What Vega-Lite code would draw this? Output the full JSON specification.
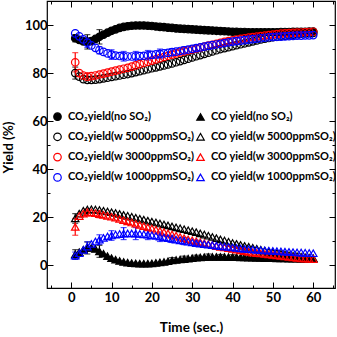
{
"$schema":"https://vega.github.io/schema/vega-lite/v6.json",
"width":288,"height":287,
"autosize":{"type":"none"},
"padding":{"left":47,"top":1,"right":2,"bottom":49},
"config":{"view":{"stroke":"black","strokeWidth":1.2},"font":"Lato",
"axis":{"domain":false,"grid":false,"labelFont":"Lato","labelFontWeight":"bold","labelFontSize":13,"labelColor":"black","tickColor":"black","tickWidth":1,"titleFont":"Lato","titleFontWeight":"bold","titleFontSize":13.5,"titleColor":"black"}},
"data":{"values":[
{"s":"a","t":1,"y":94.5,"e":1.5},{"s":"a","t":2,"y":93.8},{"s":"a","t":3,"y":93.2},{"s":"a","t":4,"y":93,"e":3},{"s":"a","t":5,"y":93.3},{"s":"a","t":6,"y":94.2},{"s":"a","t":7,"y":95.1,"e":3},{"s":"a","t":8,"y":96},{"s":"a","t":9,"y":96.8},{"s":"a","t":10,"y":97.6},
{"s":"a","t":11,"y":98.2},{"s":"a","t":12,"y":98.8},{"s":"a","t":13,"y":99.2},{"s":"a","t":14,"y":99.5},{"s":"a","t":15,"y":99.7},{"s":"a","t":16,"y":99.8},{"s":"a","t":17,"y":99.8},{"s":"a","t":18,"y":99.8},{"s":"a","t":19,"y":99.7},{"s":"a","t":20,"y":99.6},
{"s":"a","t":21,"y":99.4},{"s":"a","t":22,"y":99.2},{"s":"a","t":23,"y":99.1},{"s":"a","t":24,"y":98.9},{"s":"a","t":25,"y":98.8},{"s":"a","t":26,"y":98.6},{"s":"a","t":27,"y":98.5},{"s":"a","t":28,"y":98.4},{"s":"a","t":29,"y":98.3},{"s":"a","t":30,"y":98.2},
{"s":"a","t":31,"y":98.1},{"s":"a","t":32,"y":98},{"s":"a","t":33,"y":97.9},{"s":"a","t":34,"y":97.8},{"s":"a","t":35,"y":97.7},{"s":"a","t":36,"y":97.6},{"s":"a","t":37,"y":97.5},{"s":"a","t":38,"y":97.4},{"s":"a","t":39,"y":97.3},{"s":"a","t":40,"y":97.2},
{"s":"a","t":41,"y":97.2},{"s":"a","t":42,"y":97.1},{"s":"a","t":43,"y":97.1},{"s":"a","t":44,"y":97},{"s":"a","t":45,"y":97},{"s":"a","t":46,"y":97},{"s":"a","t":47,"y":97},{"s":"a","t":48,"y":97},{"s":"a","t":49,"y":97},{"s":"a","t":50,"y":97},
{"s":"a","t":51,"y":97},{"s":"a","t":52,"y":97.1},{"s":"a","t":53,"y":97.1},{"s":"a","t":54,"y":97.1},{"s":"a","t":55,"y":97.2},{"s":"a","t":56,"y":97.2},{"s":"a","t":57,"y":97.2},{"s":"a","t":58,"y":97.2},{"s":"a","t":59,"y":97.3},{"s":"a","t":60,"y":97.3},
{"s":"b","t":1,"y":4.5,"e":2},{"s":"b","t":2,"y":5.5},{"s":"b","t":3,"y":6.5},{"s":"b","t":4,"y":7.2,"e":2.5},{"s":"b","t":5,"y":7.3},{"s":"b","t":6,"y":6.8},{"s":"b","t":7,"y":5.8,"e":2.5},{"s":"b","t":8,"y":4.8},{"s":"b","t":9,"y":3.8},{"s":"b","t":10,"y":3},
{"s":"b","t":11,"y":2.3},{"s":"b","t":12,"y":1.8},{"s":"b","t":13,"y":1.4},{"s":"b","t":14,"y":1.1},{"s":"b","t":15,"y":0.9},{"s":"b","t":16,"y":0.8},{"s":"b","t":17,"y":0.7},{"s":"b","t":18,"y":0.7},{"s":"b","t":19,"y":0.7},{"s":"b","t":20,"y":0.8},
{"s":"b","t":21,"y":1},{"s":"b","t":22,"y":1.2},{"s":"b","t":23,"y":1.4},{"s":"b","t":24,"y":1.7},{"s":"b","t":25,"y":2,"e":1.2},{"s":"b","t":26,"y":2.2},{"s":"b","t":27,"y":2.4},{"s":"b","t":28,"y":2.6,"e":1.2},{"s":"b","t":29,"y":2.8},{"s":"b","t":30,"y":3},
{"s":"b","t":31,"y":3.2,"e":1},{"s":"b","t":32,"y":3.3},{"s":"b","t":33,"y":3.4},{"s":"b","t":34,"y":3.5,"e":1.2},{"s":"b","t":35,"y":3.5},{"s":"b","t":36,"y":3.5},{"s":"b","t":37,"y":3.5,"e":1},{"s":"b","t":38,"y":3.5},{"s":"b","t":39,"y":3.4},{"s":"b","t":40,"y":3.4,"e":1},
{"s":"b","t":41,"y":3.4},{"s":"b","t":42,"y":3.3},{"s":"b","t":43,"y":3.3,"e":1},{"s":"b","t":44,"y":3.2},{"s":"b","t":45,"y":3.2},{"s":"b","t":46,"y":3.1,"e":0.8},{"s":"b","t":47,"y":3.1},{"s":"b","t":48,"y":3},{"s":"b","t":49,"y":3,"e":0.8},{"s":"b","t":50,"y":3},
{"s":"b","t":51,"y":2.9},{"s":"b","t":52,"y":2.9,"e":0.8},{"s":"b","t":53,"y":2.9},{"s":"b","t":54,"y":2.8},{"s":"b","t":55,"y":2.8,"e":0.8},{"s":"b","t":56,"y":2.8},{"s":"b","t":57,"y":2.7},{"s":"b","t":58,"y":2.7},{"s":"b","t":59,"y":2.7},{"s":"b","t":60,"y":2.7},
{"s":"c","t":1,"y":80,"e":2.5},{"s":"c","t":2,"y":78.5},{"s":"c","t":3,"y":77.5},{"s":"c","t":4,"y":77.2},{"s":"c","t":5,"y":77.2},{"s":"c","t":6,"y":77.3},{"s":"c","t":7,"y":77.5},{"s":"c","t":8,"y":77.8},{"s":"c","t":9,"y":78.1},{"s":"c","t":10,"y":78.4},
{"s":"c","t":11,"y":78.7},{"s":"c","t":12,"y":79},{"s":"c","t":13,"y":79.3},{"s":"c","t":14,"y":79.6},{"s":"c","t":15,"y":80},{"s":"c","t":16,"y":80.4},{"s":"c","t":17,"y":80.8},{"s":"c","t":18,"y":81.2},{"s":"c","t":19,"y":81.6},{"s":"c","t":20,"y":82},
{"s":"c","t":21,"y":82.4},{"s":"c","t":22,"y":82.8},{"s":"c","t":23,"y":83.2},{"s":"c","t":24,"y":83.6},{"s":"c","t":25,"y":84},{"s":"c","t":26,"y":84.5},{"s":"c","t":27,"y":85},{"s":"c","t":28,"y":85.5},{"s":"c","t":29,"y":86},{"s":"c","t":30,"y":86.5},
{"s":"c","t":31,"y":87},{"s":"c","t":32,"y":87.5},{"s":"c","t":33,"y":88},{"s":"c","t":34,"y":88.5},{"s":"c","t":35,"y":89},{"s":"c","t":36,"y":89.5},{"s":"c","t":37,"y":90},{"s":"c","t":38,"y":90.4},{"s":"c","t":39,"y":90.8},{"s":"c","t":40,"y":91.2},
{"s":"c","t":41,"y":91.6},{"s":"c","t":42,"y":92},{"s":"c","t":43,"y":92.4},{"s":"c","t":44,"y":92.8},{"s":"c","t":45,"y":93.2},{"s":"c","t":46,"y":93.6},{"s":"c","t":47,"y":94},{"s":"c","t":48,"y":94.3},{"s":"c","t":49,"y":94.6},{"s":"c","t":50,"y":94.9},
{"s":"c","t":51,"y":95.2},{"s":"c","t":52,"y":95.4},{"s":"c","t":53,"y":95.6},{"s":"c","t":54,"y":95.8},{"s":"c","t":55,"y":96},{"s":"c","t":56,"y":96.2},{"s":"c","t":57,"y":96.4},{"s":"c","t":58,"y":96.5},{"s":"c","t":59,"y":96.6},{"s":"c","t":60,"y":96.7},
{"s":"d","t":1,"y":19.5,"e":2},{"s":"d","t":2,"y":21.5},{"s":"d","t":3,"y":22.7},{"s":"d","t":4,"y":23.2},{"s":"d","t":5,"y":23.3},{"s":"d","t":6,"y":23.2},{"s":"d","t":7,"y":23},{"s":"d","t":8,"y":22.7},{"s":"d","t":9,"y":22.4},{"s":"d","t":10,"y":22.1},
{"s":"d","t":11,"y":21.8},{"s":"d","t":12,"y":21.4},{"s":"d","t":13,"y":21},{"s":"d","t":14,"y":20.6},{"s":"d","t":15,"y":20.2},{"s":"d","t":16,"y":19.8},{"s":"d","t":17,"y":19.4},{"s":"d","t":18,"y":19},{"s":"d","t":19,"y":18.6},{"s":"d","t":20,"y":18.2},
{"s":"d","t":21,"y":17.8},{"s":"d","t":22,"y":17.4},{"s":"d","t":23,"y":17},{"s":"d","t":24,"y":16.6},{"s":"d","t":25,"y":16.2},{"s":"d","t":26,"y":15.8},{"s":"d","t":27,"y":15.4},{"s":"d","t":28,"y":15},{"s":"d","t":29,"y":14.6},{"s":"d","t":30,"y":14.2},
{"s":"d","t":31,"y":13.8},{"s":"d","t":32,"y":13.3},{"s":"d","t":33,"y":12.8},{"s":"d","t":34,"y":12.3},{"s":"d","t":35,"y":11.8},{"s":"d","t":36,"y":11.3},{"s":"d","t":37,"y":10.8},{"s":"d","t":38,"y":10.3},{"s":"d","t":39,"y":9.8},{"s":"d","t":40,"y":9.3},
{"s":"d","t":41,"y":8.9},{"s":"d","t":42,"y":8.5},{"s":"d","t":43,"y":8.1},{"s":"d","t":44,"y":7.7},{"s":"d","t":45,"y":7.3},{"s":"d","t":46,"y":6.9},{"s":"d","t":47,"y":6.5},{"s":"d","t":48,"y":6.1},{"s":"d","t":49,"y":5.7},{"s":"d","t":50,"y":5.4},
{"s":"d","t":51,"y":5.1},{"s":"d","t":52,"y":4.8},{"s":"d","t":53,"y":4.5},{"s":"d","t":54,"y":4.2},{"s":"d","t":55,"y":4},{"s":"d","t":56,"y":3.8},{"s":"d","t":57,"y":3.6},{"s":"d","t":58,"y":3.4},{"s":"d","t":59,"y":3.2},{"s":"d","t":60,"y":3},
{"s":"e","t":1,"y":84.5,"e":4},{"s":"e","t":2,"y":80},{"s":"e","t":3,"y":79},{"s":"e","t":4,"y":78.5,"e":1.5},{"s":"e","t":5,"y":78.7},{"s":"e","t":6,"y":79},{"s":"e","t":7,"y":79.4},{"s":"e","t":8,"y":79.8},{"s":"e","t":9,"y":80.2},{"s":"e","t":10,"y":80.6},
{"s":"e","t":11,"y":81},{"s":"e","t":12,"y":81.4},{"s":"e","t":13,"y":81.8},{"s":"e","t":14,"y":82.2},{"s":"e","t":15,"y":82.7},{"s":"e","t":16,"y":83.2},{"s":"e","t":17,"y":83.7},{"s":"e","t":18,"y":84.2},{"s":"e","t":19,"y":84.7},{"s":"e","t":20,"y":85.2},
{"s":"e","t":21,"y":85.7},{"s":"e","t":22,"y":86.2},{"s":"e","t":23,"y":86.7},{"s":"e","t":24,"y":87.2},{"s":"e","t":25,"y":87.7},{"s":"e","t":26,"y":88.2},{"s":"e","t":27,"y":88.6},{"s":"e","t":28,"y":89},{"s":"e","t":29,"y":89.4},{"s":"e","t":30,"y":89.8},
{"s":"e","t":31,"y":90.2},{"s":"e","t":32,"y":90.6},{"s":"e","t":33,"y":91},{"s":"e","t":34,"y":91.4},{"s":"e","t":35,"y":91.8},{"s":"e","t":36,"y":92.2},{"s":"e","t":37,"y":92.6},{"s":"e","t":38,"y":93},{"s":"e","t":39,"y":93.3},{"s":"e","t":40,"y":93.6},
{"s":"e","t":41,"y":93.9},{"s":"e","t":42,"y":94.2},{"s":"e","t":43,"y":94.5},{"s":"e","t":44,"y":94.8},{"s":"e","t":45,"y":95},{"s":"e","t":46,"y":95.2},{"s":"e","t":47,"y":95.4},{"s":"e","t":48,"y":95.6},{"s":"e","t":49,"y":95.8},{"s":"e","t":50,"y":96},
{"s":"e","t":51,"y":96.2},{"s":"e","t":52,"y":96.4},{"s":"e","t":53,"y":96.5},{"s":"e","t":54,"y":96.6},{"s":"e","t":55,"y":96.7},{"s":"e","t":56,"y":96.8},{"s":"e","t":57,"y":96.9},{"s":"e","t":58,"y":97},{"s":"e","t":59,"y":97.1},{"s":"e","t":60,"y":97.2},
{"s":"f","t":1,"y":16,"e":3.5},{"s":"f","t":2,"y":20.5},{"s":"f","t":3,"y":21.5},{"s":"f","t":4,"y":22,"e":1.5},{"s":"f","t":5,"y":22},{"s":"f","t":6,"y":21.7},{"s":"f","t":7,"y":21.3,"e":1.5},{"s":"f","t":8,"y":21},{"s":"f","t":9,"y":20.6},{"s":"f","t":10,"y":20.2},
{"s":"f","t":11,"y":19.8},{"s":"f","t":12,"y":19.3},{"s":"f","t":13,"y":18.8},{"s":"f","t":14,"y":18.3},{"s":"f","t":15,"y":17.8},{"s":"f","t":16,"y":17.3},{"s":"f","t":17,"y":16.8},{"s":"f","t":18,"y":16.3},{"s":"f","t":19,"y":15.8},{"s":"f","t":20,"y":15.3},
{"s":"f","t":21,"y":14.8},{"s":"f","t":22,"y":14.3},{"s":"f","t":23,"y":13.8},{"s":"f","t":24,"y":13.3},{"s":"f","t":25,"y":12.8},{"s":"f","t":26,"y":12.3},{"s":"f","t":27,"y":11.8},{"s":"f","t":28,"y":11.3},{"s":"f","t":29,"y":10.8},{"s":"f","t":30,"y":10.4},
{"s":"f","t":31,"y":10},{"s":"f","t":32,"y":9.6},{"s":"f","t":33,"y":9.2},{"s":"f","t":34,"y":8.8},{"s":"f","t":35,"y":8.4},{"s":"f","t":36,"y":8},{"s":"f","t":37,"y":7.7},{"s":"f","t":38,"y":7.4},{"s":"f","t":39,"y":7.1},{"s":"f","t":40,"y":6.8},
{"s":"f","t":41,"y":6.5},{"s":"f","t":42,"y":6.2},{"s":"f","t":43,"y":5.9},{"s":"f","t":44,"y":5.6},{"s":"f","t":45,"y":5.3},{"s":"f","t":46,"y":5.1},{"s":"f","t":47,"y":4.9},{"s":"f","t":48,"y":4.7},{"s":"f","t":49,"y":4.5},{"s":"f","t":50,"y":4.3},
{"s":"f","t":51,"y":4.1},{"s":"f","t":52,"y":3.9},{"s":"f","t":53,"y":3.7},{"s":"f","t":54,"y":3.5},{"s":"f","t":55,"y":3.3},{"s":"f","t":56,"y":3.1},{"s":"f","t":57,"y":2.9},{"s":"f","t":58,"y":2.8},{"s":"f","t":59,"y":2.7},{"s":"f","t":60,"y":2.6},
{"s":"g","t":1,"y":96.5},{"s":"g","t":2,"y":95.3},{"s":"g","t":3,"y":94},{"s":"g","t":4,"y":92.7,"e":2},{"s":"g","t":5,"y":91.5},{"s":"g","t":6,"y":90.5},{"s":"g","t":7,"y":89.5,"e":1.5},{"s":"g","t":8,"y":88.8},{"s":"g","t":9,"y":88.2},{"s":"g","t":10,"y":87.7,"e":2},
{"s":"g","t":11,"y":87.3},{"s":"g","t":12,"y":87.1},{"s":"g","t":13,"y":87,"e":2},{"s":"g","t":14,"y":86.9},{"s":"g","t":15,"y":86.9},{"s":"g","t":16,"y":87,"e":2},{"s":"g","t":17,"y":87.1},{"s":"g","t":18,"y":87.2},{"s":"g","t":19,"y":87.4,"e":2},{"s":"g","t":20,"y":87.6},
{"s":"g","t":21,"y":87.8},{"s":"g","t":22,"y":88,"e":2},{"s":"g","t":23,"y":88.2},{"s":"g","t":24,"y":88.4},{"s":"g","t":25,"y":88.7,"e":1.5},{"s":"g","t":26,"y":88.9},{"s":"g","t":27,"y":89.2},{"s":"g","t":28,"y":89.5,"e":1.5},{"s":"g","t":29,"y":89.8},{"s":"g","t":30,"y":90.1},
{"s":"g","t":31,"y":90.4,"e":1.2},{"s":"g","t":32,"y":90.7},{"s":"g","t":33,"y":91},{"s":"g","t":34,"y":91.3},{"s":"g","t":35,"y":91.6},{"s":"g","t":36,"y":91.9},{"s":"g","t":37,"y":92.2},{"s":"g","t":38,"y":92.5},{"s":"g","t":39,"y":92.8},{"s":"g","t":40,"y":93.1},
{"s":"g","t":41,"y":93.3},{"s":"g","t":42,"y":93.5},{"s":"g","t":43,"y":93.7},{"s":"g","t":44,"y":93.9},{"s":"g","t":45,"y":94.1},{"s":"g","t":46,"y":94.3},{"s":"g","t":47,"y":94.5},{"s":"g","t":48,"y":94.7},{"s":"g","t":49,"y":94.9},{"s":"g","t":50,"y":95},
{"s":"g","t":51,"y":95.1},{"s":"g","t":52,"y":95.2},{"s":"g","t":53,"y":95.3},{"s":"g","t":54,"y":95.4},{"s":"g","t":55,"y":95.5},{"s":"g","t":56,"y":95.6},{"s":"g","t":57,"y":95.6},{"s":"g","t":58,"y":95.7},{"s":"g","t":59,"y":95.7},{"s":"g","t":60,"y":95.8},
{"s":"h","t":1,"y":4,"e":1.5},{"s":"h","t":2,"y":5},{"s":"h","t":3,"y":6.4},{"s":"h","t":4,"y":7.8,"e":2},{"s":"h","t":5,"y":8.9},{"s":"h","t":6,"y":9.9},{"s":"h","t":7,"y":10.7,"e":2},{"s":"h","t":8,"y":11.4},{"s":"h","t":9,"y":12},{"s":"h","t":10,"y":12.4,"e":2},
{"s":"h","t":11,"y":12.8},{"s":"h","t":12,"y":13},{"s":"h","t":13,"y":13.2,"e":2.5},{"s":"h","t":14,"y":13.3},{"s":"h","t":15,"y":13.3},{"s":"h","t":16,"y":13.2,"e":2.5},{"s":"h","t":17,"y":13.1},{"s":"h","t":18,"y":12.9},{"s":"h","t":19,"y":12.7,"e":2},{"s":"h","t":20,"y":12.5},
{"s":"h","t":21,"y":12.2},{"s":"h","t":22,"y":11.9,"e":2},{"s":"h","t":23,"y":11.6},{"s":"h","t":24,"y":11.3},{"s":"h","t":25,"y":11,"e":1.5},{"s":"h","t":26,"y":10.7},{"s":"h","t":27,"y":10.4},{"s":"h","t":28,"y":10.1,"e":1.5},{"s":"h","t":29,"y":9.8},{"s":"h","t":30,"y":9.5},
{"s":"h","t":31,"y":9.2,"e":1.2},{"s":"h","t":32,"y":9},{"s":"h","t":33,"y":8.8},{"s":"h","t":34,"y":8.6},{"s":"h","t":35,"y":8.4},{"s":"h","t":36,"y":8.2},{"s":"h","t":37,"y":8},{"s":"h","t":38,"y":7.8},{"s":"h","t":39,"y":7.6},{"s":"h","t":40,"y":7.4},
{"s":"h","t":41,"y":7.2},{"s":"h","t":42,"y":7},{"s":"h","t":43,"y":6.8},{"s":"h","t":44,"y":6.7},{"s":"h","t":45,"y":6.6},{"s":"h","t":46,"y":6.4},{"s":"h","t":47,"y":6.3},{"s":"h","t":48,"y":6.2},{"s":"h","t":49,"y":6.1},{"s":"h","t":50,"y":6},
{"s":"h","t":51,"y":5.9},{"s":"h","t":52,"y":5.8},{"s":"h","t":53,"y":5.7},{"s":"h","t":54,"y":5.6},{"s":"h","t":55,"y":5.5},{"s":"h","t":56,"y":5.4},{"s":"h","t":57,"y":5.3},{"s":"h","t":58,"y":5.2},{"s":"h","t":59,"y":5.1},{"s":"h","t":60,"y":5}
]},
"layer":[
{"transform":[{"filter":{"field":"e","valid":true}}],
 "mark":{"type":"errorbar","ticks":{"size":6},"thickness":1.2},
 "encoding":{
  "x":{"field":"t","type":"quantitative","scale":{"domain":[-6,65.4],"nice":false,"zero":false},"axis":null},
  "y":{"field":"y","type":"quantitative","scale":{"domain":[-9.45,110],"nice":false,"zero":false},"axis":null},
  "yError":{"field":"e"},
  "color":{"field":"s","type":"nominal","scale":{"domain":["h","g","f","e","d","c","b","a"],"range":["#0000ff","#0000ff","#ff0000","#ff0000","#000000","#000000","#000000","#000000"]},"legend":null}}},
{"mark":{"type":"point","size":56,"strokeWidth":1.2,"opacity":1},
 "encoding":{
  "x":{"field":"t","type":"quantitative","scale":{"domain":[-6,65.4],"nice":false,"zero":false},"axis":{"orient":"bottom","values":[0,10,20,30,40,50,60],"tickSize":-6,"labelPadding":9,"title":"Time (sec.)","titleY":43,"titleBaseline":"alphabetic"}},
  "y":{"field":"y","type":"quantitative","scale":{"domain":[-9.45,110],"nice":false,"zero":false},"axis":{"orient":"left","values":[0,20,40,60,80,100],"tickSize":-6,"labelPadding":6,"title":"Yield (%)","titleX":-35,"titleY":146,"titleBaseline":"alphabetic"}},
  "stroke":{"field":"s","type":"nominal","scale":{"domain":["a","c","e","g","b","d","f","h"],"range":["#000000","#000000","#ff0000","#0000ff","#000000","#000000","#ff0000","#0000ff"]},
    "legend":{"title":null,"orient":"none","legendX":5,"legendY":110,"columns":2,"columnPadding":-5,"rowPadding":7.3,"padding":0,"labelFont":"Lato","labelFontWeight":"bold","labelFontSize":11,"labelColor":"black","symbolSize":56,"symbolStrokeWidth":1.2,"labelOffset":5,
    "labelExpr":"datum.value=='a'?'CO₂yield(no SO₂)':datum.value=='b'?'CO yield(no SO₂)':datum.value=='c'?'CO₂yield(w 5000ppmSO₂)':datum.value=='d'?'CO yield(w 5000ppmSO₂)':datum.value=='e'?'CO₂yield(w 3000ppmSO₂)':datum.value=='f'?'CO yield(w 3000ppmSO₂)':datum.value=='g'?'CO₂yield(w 1000ppmSO₂)':'CO yield(w 1000ppmSO₂)'"}},
  "fill":{"field":"s","type":"nominal","scale":{"domain":["a","c","e","g","b","d","f","h"],"range":["#000000","transparent","transparent","transparent","#000000","transparent","transparent","transparent"]},
    "legend":{"title":null,"orient":"none","legendX":5,"legendY":110,"columns":2,"columnPadding":-5,"rowPadding":7.3,"padding":0,"labelFont":"Lato","labelFontWeight":"bold","labelFontSize":11,"labelColor":"black","symbolSize":56,"symbolStrokeWidth":1.2,"labelOffset":5,
    "labelExpr":"datum.value=='a'?'CO₂yield(no SO₂)':datum.value=='b'?'CO yield(no SO₂)':datum.value=='c'?'CO₂yield(w 5000ppmSO₂)':datum.value=='d'?'CO yield(w 5000ppmSO₂)':datum.value=='e'?'CO₂yield(w 3000ppmSO₂)':datum.value=='f'?'CO yield(w 3000ppmSO₂)':datum.value=='g'?'CO₂yield(w 1000ppmSO₂)':'CO yield(w 1000ppmSO₂)'"}},
  "shape":{"field":"s","type":"nominal","scale":{"domain":["a","c","e","g","b","d","f","h"],"range":["circle","circle","circle","circle","triangle-up","triangle-up","triangle-up","triangle-up"]},
    "legend":{"title":null,"orient":"none","legendX":5,"legendY":110,"columns":2,"columnPadding":-5,"rowPadding":7.3,"padding":0,"labelFont":"Lato","labelFontWeight":"bold","labelFontSize":11,"labelColor":"black","symbolSize":56,"symbolStrokeWidth":1.2,"labelOffset":5,
    "labelExpr":"datum.value=='a'?'CO₂yield(no SO₂)':datum.value=='b'?'CO yield(no SO₂)':datum.value=='c'?'CO₂yield(w 5000ppmSO₂)':datum.value=='d'?'CO yield(w 5000ppmSO₂)':datum.value=='e'?'CO₂yield(w 3000ppmSO₂)':datum.value=='f'?'CO yield(w 3000ppmSO₂)':datum.value=='g'?'CO₂yield(w 1000ppmSO₂)':'CO yield(w 1000ppmSO₂)'"}}}},
{"transform":[{"filter":"datum.t==1 && datum.s=='a'"}],
 "mark":{"type":"point","opacity":0},
 "encoding":{
  "x":{"field":"t","type":"quantitative","scale":{"domain":[-6,65.4],"nice":false,"zero":false},"axis":{"orient":"top","values":[0,10,20,30,40,50,60],"tickSize":-6,"labels":false,"title":null}},
  "y":{"field":"y","type":"quantitative","scale":{"domain":[-9.45,110],"nice":false,"zero":false},"axis":{"orient":"right","values":[0,20,40,60,80,100],"tickSize":-6,"labels":false,"title":null}}}},
{"transform":[{"filter":"datum.t==1 && datum.s=='a'"}],
 "mark":{"type":"point","opacity":0},
 "encoding":{
  "x":{"field":"t","type":"quantitative","scale":{"domain":[-6,65.4],"nice":false,"zero":false},"axis":{"orient":"bottom","values":[-5,5,15,25,35,45,55,65],"tickSize":-3,"labels":false,"title":null}},
  "y":{"field":"y","type":"quantitative","scale":{"domain":[-9.45,110],"nice":false,"zero":false},"axis":{"orient":"left","values":[10,30,50,70,90],"tickSize":-3,"labels":false,"title":null}}}},
{"transform":[{"filter":"datum.t==1 && datum.s=='a'"}],
 "mark":{"type":"point","opacity":0},
 "encoding":{
  "x":{"field":"t","type":"quantitative","scale":{"domain":[-6,65.4],"nice":false,"zero":false},"axis":{"orient":"top","values":[-5,5,15,25,35,45,55,65],"tickSize":-3,"labels":false,"title":null}},
  "y":{"field":"y","type":"quantitative","scale":{"domain":[-9.45,110],"nice":false,"zero":false},"axis":{"orient":"right","values":[10,30,50,70,90],"tickSize":-3,"labels":false,"title":null}}}}
],
"resolve":{"axis":{"x":"independent","y":"independent"}}
}
